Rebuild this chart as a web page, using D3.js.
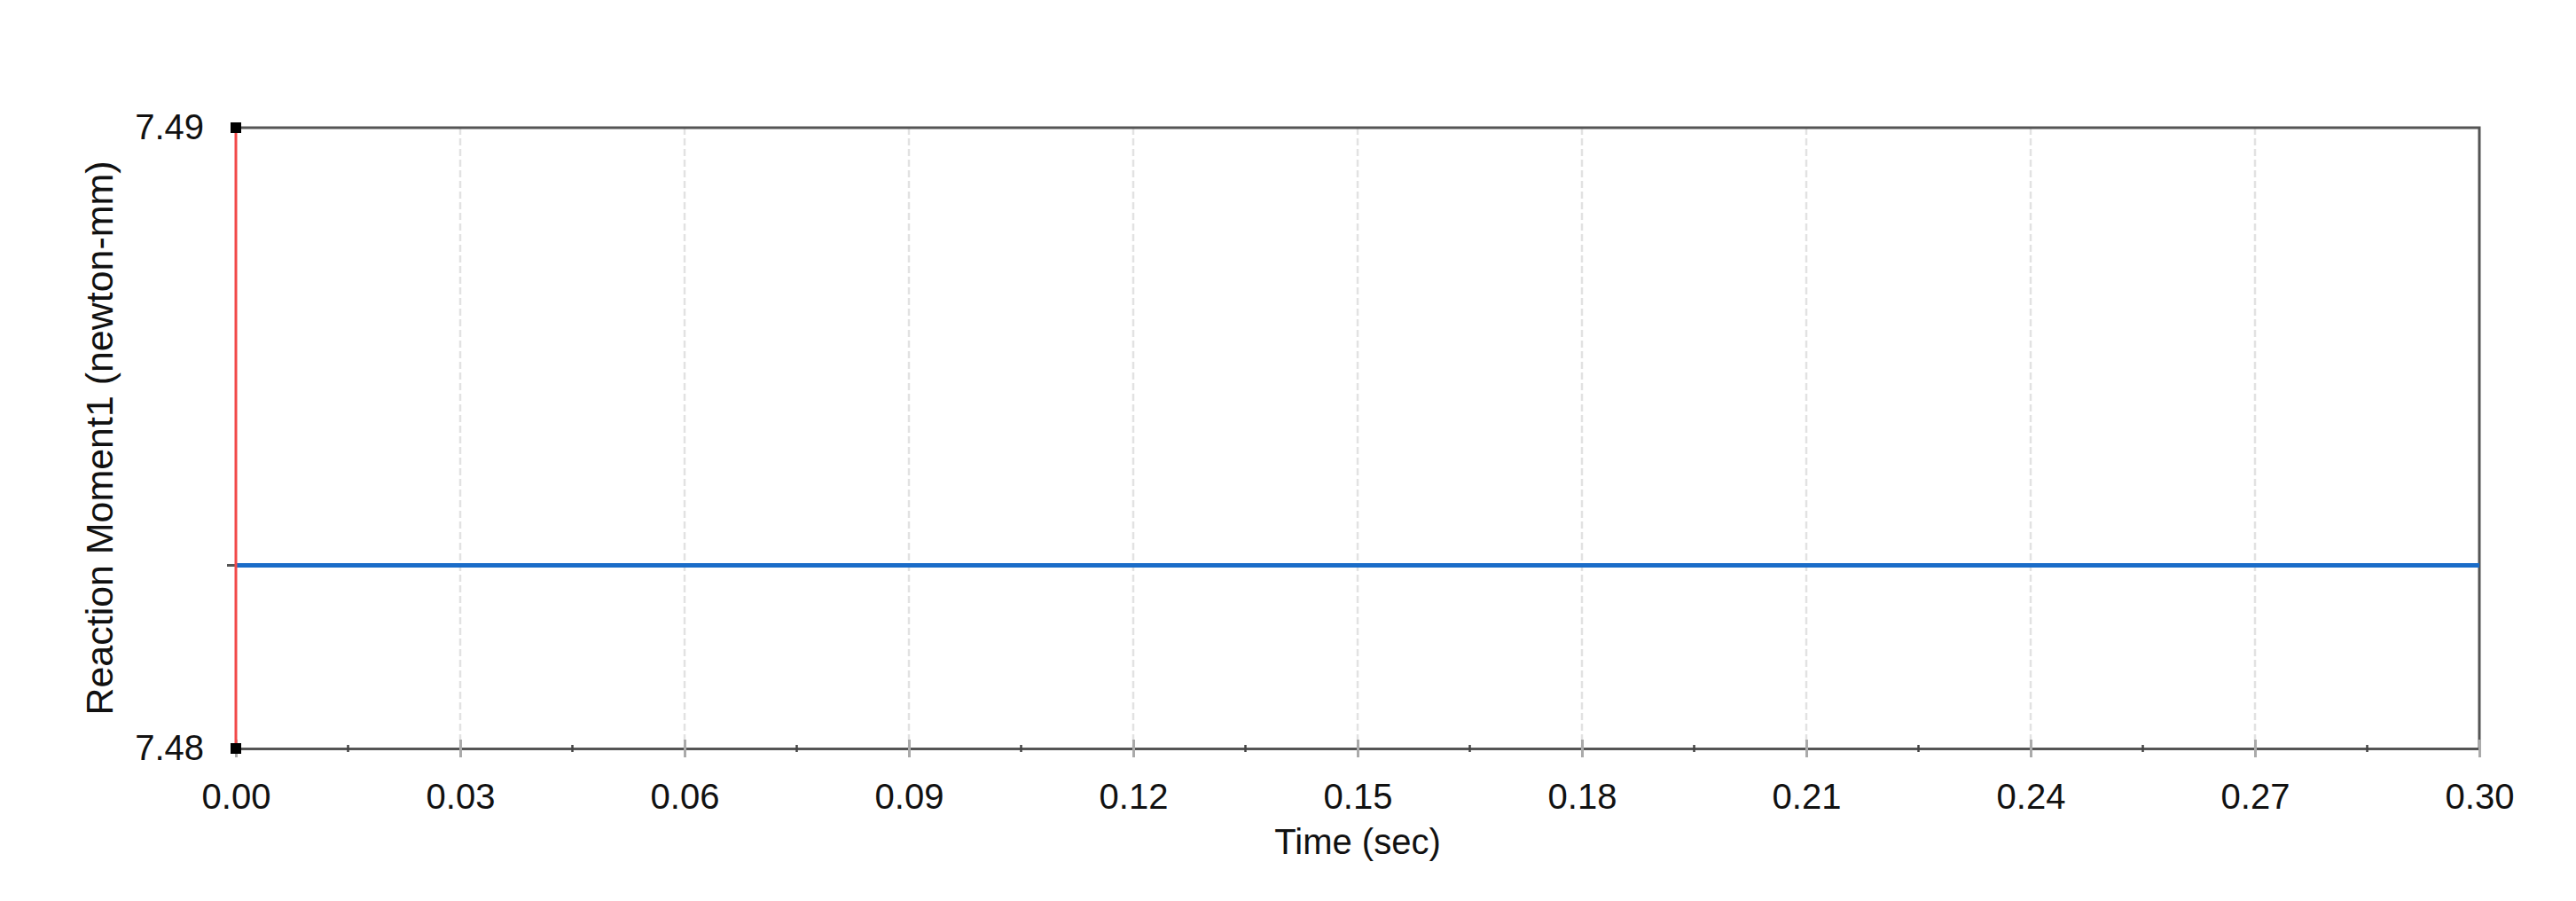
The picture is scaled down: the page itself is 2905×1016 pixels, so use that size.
<!DOCTYPE html>
<html>
<head>
<meta charset="utf-8">
<script src="https://cdn.jsdelivr.net/npm/d3@7"></script>
<style>
  body { margin: 0; background: #fff; }
  text { font-family: "Liberation Sans", Arial, sans-serif; fill: #111; }
</style>
</head>
<body>
<svg id="chart"></svg>
<script>
// data
var timeValues   = [0.00, 0.03, 0.06, 0.09, 0.12, 0.15, 0.18, 0.21, 0.24, 0.27, 0.30];
var momentValues = [7.48295, 7.48295, 7.48295, 7.48295, 7.48295, 7.48295, 7.48295, 7.48295, 7.48295, 7.48295, 7.48295];
var xTickValues  = [0.00, 0.03, 0.06, 0.09, 0.12, 0.15, 0.18, 0.21, 0.24, 0.27, 0.30];
var xMinorValues = [0.015, 0.045, 0.075, 0.105, 0.135, 0.165, 0.195, 0.225, 0.255, 0.285];
var yTickValues  = [7.48, 7.49];
var cursorTime   = 0.00;
var xLabel = "Time (sec)";
var yLabel = "Reaction Moment1 (newton-mm)";

var WIDTH = 2905, HEIGHT = 1016,
    MARGINS = { top: 144, right: 109, bottom: 172, left: 266 };

var svg = d3.select('#chart').attr('width', WIDTH).attr('height', HEIGHT);

var xScale = d3.scaleLinear().domain([0, 0.30]).range([MARGINS.left, WIDTH - MARGINS.right]),
    yScale = d3.scaleLinear().domain([7.48, 7.49]).range([HEIGHT - MARGINS.bottom, MARGINS.top]);

var x0 = xScale.range()[0], x1 = xScale.range()[1],
    yTop = yScale.range()[1], yBot = yScale.range()[0];

// dashed vertical grid
svg.append('g').selectAll('line')
   .data(xTickValues.slice(1, -1))
   .enter().append('line')
   .attr('x1', function(d) { return xScale(d); })
   .attr('x2', function(d) { return xScale(d); })
   .attr('y1', yTop).attr('y2', yBot)
   .attr('stroke', '#e2e2e2')
   .attr('stroke-width', 2.5)
   .attr('stroke-dasharray', '8,4');

// frame (top + right)
svg.append('path')
   .attr('d', 'M' + x0 + ',' + yTop + 'H' + x1 + 'V' + yBot)
   .attr('fill', 'none')
   .attr('stroke', '#555')
   .attr('stroke-width', 3);

// bottom axis
var xAxis = d3.axisBottom(xScale)
              .tickValues(xTickValues)
              .tickFormat(d3.format('.2f'))
              .tickSize(10)
              .tickPadding(30);

var gx = svg.append('g')
            .attr('transform', 'translate(0,' + yBot + ')')
            .call(xAxis);
gx.select('.domain').attr('stroke', '#555').attr('stroke-width', 3);
gx.selectAll('.tick line').attr('y1', -10).attr('stroke', '#aaa').attr('stroke-width', 3);
gx.selectAll('.tick text').attr('font-size', 40).attr('fill', '#111')
  .attr('font-family', '"Liberation Sans", Arial, sans-serif');

svg.append('g').selectAll('line')
   .data(xMinorValues)
   .enter().append('line')
   .attr('x1', function(d) { return xScale(d); })
   .attr('x2', function(d) { return xScale(d); })
   .attr('y1', yBot - 4).attr('y2', yBot + 4)
   .attr('stroke', '#444')
   .attr('stroke-width', 2.5);

// left axis labels
var yAxis = d3.axisLeft(yScale)
              .tickValues(yTickValues)
              .tickFormat(d3.format('.2f'))
              .tickSize(0)
              .tickPadding(36);
var gy = svg.append('g')
            .attr('transform', 'translate(' + x0 + ',0)')
            .call(yAxis);
gy.select('.domain').remove();
gy.selectAll('.tick text').attr('font-size', 40).attr('fill', '#111')
  .attr('font-family', '"Liberation Sans", Arial, sans-serif');

// small tick where the curve meets the axis
svg.append('line')
   .attr('x1', x0 - 10).attr('x2', x0)
   .attr('y1', yScale(momentValues[0])).attr('y2', yScale(momentValues[0]))
   .attr('stroke', '#555').attr('stroke-width', 3);

// data line
var lineGen = d3.line()
                .x(function(d, i) { return xScale(timeValues[i]); })
                .y(function(d) { return yScale(d); });

svg.append('path')
   .attr('d', lineGen(momentValues))
   .attr('fill', 'none')
   .attr('stroke', '#1a6cc8')
   .attr('stroke-width', 5);

// red cursor line
svg.append('line')
   .attr('x1', xScale(cursorTime)).attr('x2', xScale(cursorTime))
   .attr('y1', yTop).attr('y2', yBot)
   .attr('stroke', '#f24848')
   .attr('stroke-width', 3);

// black end markers
svg.selectAll('.marker')
   .data(yTickValues)
   .enter().append('rect')
   .attr('x', xScale(cursorTime) - 6)
   .attr('y', function(d) { return yScale(d) - 6; })
   .attr('width', 12).attr('height', 12)
   .attr('fill', '#000');

// axis titles
svg.append('text')
   .attr('x', (x0 + x1) / 2)
   .attr('y', 963)
   .attr('text-anchor', 'middle')
   .attr('font-size', 40)
   .text(xLabel);

svg.append('text')
   .attr('transform', 'translate(127,' + ((yTop + yBot) / 2) + ') rotate(-90)')
   .attr('text-anchor', 'middle')
   .attr('font-size', 43)
   .attr('textLength', 625)
   .attr('lengthAdjust', 'spacingAndGlyphs')
   .text(yLabel);
</script>
</body>
</html>
